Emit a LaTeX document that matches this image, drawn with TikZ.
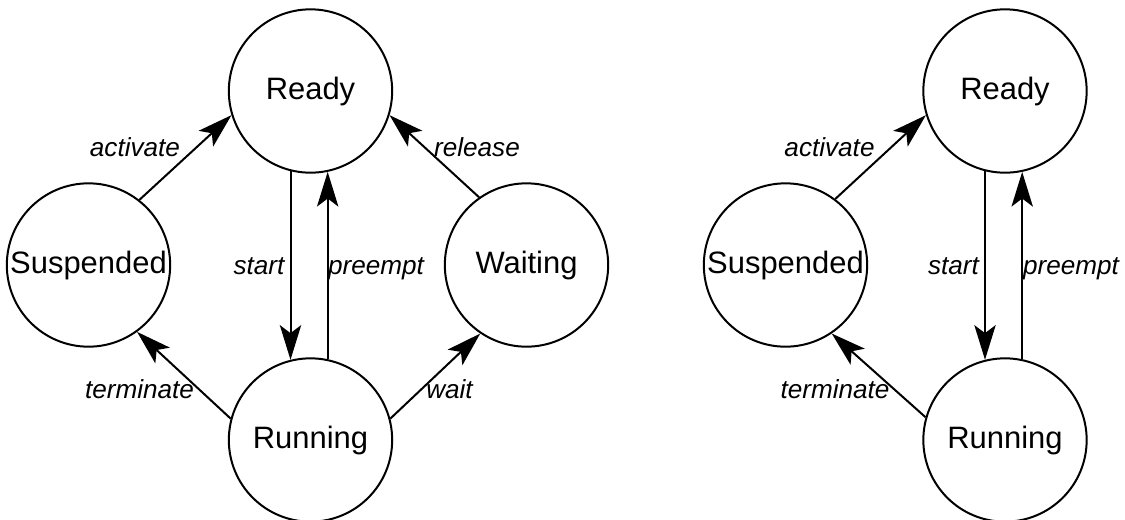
\documentclass[tikz,border=0pt]{standalone}
\usepackage{fontspec}
\setmainfont{Liberation Sans}
\usetikzlibrary{arrows.meta}
\begin{document}
\begin{tikzpicture}[x=0.75pt,y=-0.75pt,
  state/.style={circle,draw,line width=1.5pt,minimum size=122.5pt,inner sep=0pt,
    font=\fontsize{23.2}{27}\selectfont},
  trans/.style={line width=1.5pt,-{Stealth[length=26pt,width=16pt,inset=6pt]}},
  lbl/.style={anchor=base,inner sep=0pt,font=\fontsize{19.6}{23}\selectfont\itshape}]
\fill[white] (0,0) rectangle (1125,519);
\useasboundingbox (0,0) rectangle (1125,519);

% ---- left diagram ----
\node[state] (R1) at (310.5,91) {Ready};
\node[state] (U1) at (310.5,440) {Running};
\node[state] (S1) at (88.5,265) {Suspended};
\node[state] (W1) at (526.5,265) {Waiting};

\draw[trans] (S1.52) -- (R1.197);
\draw[trans] (W1.125) -- (R1.-17);
\draw[trans] (R1.-104.5) -- (U1.104.5);
\draw[trans] (U1.78.6) -- (R1.-78.6);
\draw[trans] (U1.165) -- (S1.-54);
\draw[trans] (U1.15) -- (W1.-124);

\node[lbl] (a1) at (135,156) {activate};
\node[lbl] (r1) at (477,156) {release};
\node[lbl] (s1) at (259,274) {start};
\node[lbl] (p1) at (376,274) {preempt};
\node[lbl] (t1) at (139.5,398) {terminate};
\node[lbl] (w1) at (449.5,398) {wait};

% ---- right diagram ----
\node[state] (R2) at (1005,91) {Ready};
\node[state] (U2) at (1005,440) {Running};
\node[state] (S2) at (785.5,265) {Suspended};

\draw[trans] (S2.53) -- (R2.197);
\draw[trans] (R2.-104.5) -- (U2.104.5);
\draw[trans] (U2.78.6) -- (R2.-78.6);
\draw[trans] (U2.164) -- (S2.-56);

\node[lbl] (a2) at (829.5,156) {activate};
\node[lbl] (s2) at (953.5,274) {start};
\node[lbl] (p2) at (1071,274) {preempt};
\node[lbl] (t2) at (835,398) {terminate};
\end{tikzpicture}
\end{document}
